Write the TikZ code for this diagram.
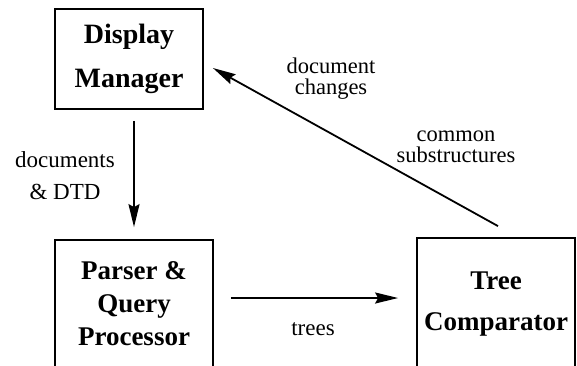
\documentclass[tikz,border=0pt]{standalone}
\usepackage{fontspec}
\setmainfont{Liberation Serif}
\usetikzlibrary{arrows.meta}

\begin{document}
\begin{tikzpicture}[x=1pt,y=-1pt,
  module/.style={draw, line width=1.8pt, inner sep=0pt, align=center,
    font=\bfseries\fontsize{27}{33}\selectfont},
  flowlabel/.style={inner sep=0pt, align=center, font=\fontsize{22.5}{21}\selectfont},
  flow/.style={line width=1.8pt, -{Stealth[length=23pt,width=11pt,inset=3pt]}}]
  \useasboundingbox (0,0) rectangle (577,365);
  \clip (0,0) rectangle (577,365);

  % modules
  \node[module, minimum width=148pt, minimum height=100pt,
        font=\bfseries\fontsize{28}{44}\selectfont] (disp) at (129,59)
        {Display\\Manager};
  \node[module, minimum width=158pt, minimum height=127pt] (parser) at (134,303.5)
        {Parser \&\\Query\\Processor};
  \node[module, minimum width=158pt, minimum height=132pt,
        font=\bfseries\fontsize{27}{41}\selectfont] (tree) at (496,304)
        {Tree\\Comparator};

  % data flows
  \draw[flow, shorten <=11pt, shorten >=12pt] (disp.south -| parser.north) -- (parser.north);
  \draw[flow, shorten <=17pt, shorten >=18pt]
        ([yshift=5.5pt]parser.east) -- ([yshift=5.5pt]parser.east -| tree.west);
  \draw[flow] ([xshift=2pt,yshift=11pt]tree.north) -- ([xshift=9pt,yshift=-9pt]disp.east);

  % flow labels
  \node[flowlabel, font=\fontsize{23}{32}\selectfont] (ldocs) at (65,176) {documents\\\& DTD};
  \node[flowlabel] (lchanges) at (331,79) {document\\changes};
  \node[flowlabel] (lcommon) at (456,147) {common\\substructures};
  \node[flowlabel, font=\fontsize{23}{28}\selectfont, anchor=base] (ltrees) at (313,335) {trees};
\end{tikzpicture}
\end{document}
